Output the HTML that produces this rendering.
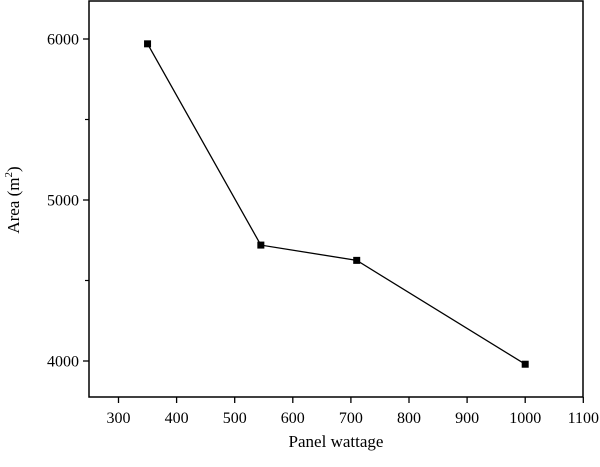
<!DOCTYPE html>
<html><head><meta charset="utf-8"><style>
html,body{margin:0;padding:0;background:#fff;width:600px;height:467px;overflow:hidden}
text{font-family:"Liberation Serif",serif;fill:#000}
</style></head><body>
<svg id="chart" width="600" height="467" viewBox="0 0 600 467" xmlns="http://www.w3.org/2000/svg">
<g id="axes"></g><g id="series"></g>
</svg>
<script>
const xValues = [350, 545, 710, 1000];
const areaValues = [5970, 4720, 4625, 3980];
const xTicks = [300, 400, 500, 600, 700, 800, 900, 1000, 1100];
const yTicks = [4000, 5000, 6000];
const yMinorTicks = [4500, 5500];

const L = 89, R = 583, T = 1, B = 397;
function xs(v){ return 118.5 + (v - 300) * (583.3 - 118.5) / 800; }
function ys(v){ return 361 - (v - 4000) * 161 / 1000; }
const NS = "http://www.w3.org/2000/svg";
const axes = document.getElementById('axes');
const series = document.getElementById('series');
function mk(tag, attrs, parent){ const e = document.createElementNS(NS, tag); for (const k in attrs) e.setAttribute(k, attrs[k]); parent.appendChild(e); return e; }

const box = mk('rect', {x:L, y:T, width:R-L, height:B-T, fill:'none', stroke:'#000', 'stroke-width':1.5}, axes);



xTicks.forEach(v => {
  const x = xs(v);
  const t = mk('line', {x1:x, x2:x, y1:B, y2:B+6, stroke:'#000', 'stroke-width':1.3}, axes);
  
  
  const l = mk('text', {x:x, y:B+26, 'text-anchor':'middle', 'font-size':16}, axes);
  l.textContent = v;
  
  
});
yTicks.forEach(v => {
  const y = ys(v);
  const t = mk('line', {x1:L-6, x2:L, y1:y, y2:y, stroke:'#000', 'stroke-width':1.3}, axes);
  
  
  const l = mk('text', {x:L-10, y:y+5.5, 'text-anchor':'end', 'font-size':16}, axes);
  l.textContent = v;
  
  
});
yMinorTicks.forEach(v => {
  const y = ys(v);
  const t = mk('line', {x1:L-4, x2:L, y1:y, y2:y, stroke:'#000', 'stroke-width':1.2}, axes);
  
  
});
const xt = mk('text', {x:(L+R)/2, y:447, 'text-anchor':'middle', 'font-size':17}, axes);
xt.textContent = 'Panel wattage';


const yt = mk('text', {x:0, y:0, 'text-anchor':'middle', 'font-size':17, transform:'translate(19,200) rotate(-90)'}, axes);
yt.innerHTML = 'Area (m<tspan dy="-7" font-size="11">2</tspan><tspan dy="7">)</tspan>';



const pts = xValues.map((v,i) => xs(v) + ',' + ys(areaValues[i])).join(' ');
const line = mk('polyline', {points:pts, fill:'none', stroke:'#000', 'stroke-width':1.3}, series);


xValues.forEach((v,i) => {
  const m = mk('rect', {x:xs(v)-3.5, y:ys(areaValues[i])-3.5, width:7, height:7, fill:'#000'}, series);
  
  
});
</script>
</body></html>
